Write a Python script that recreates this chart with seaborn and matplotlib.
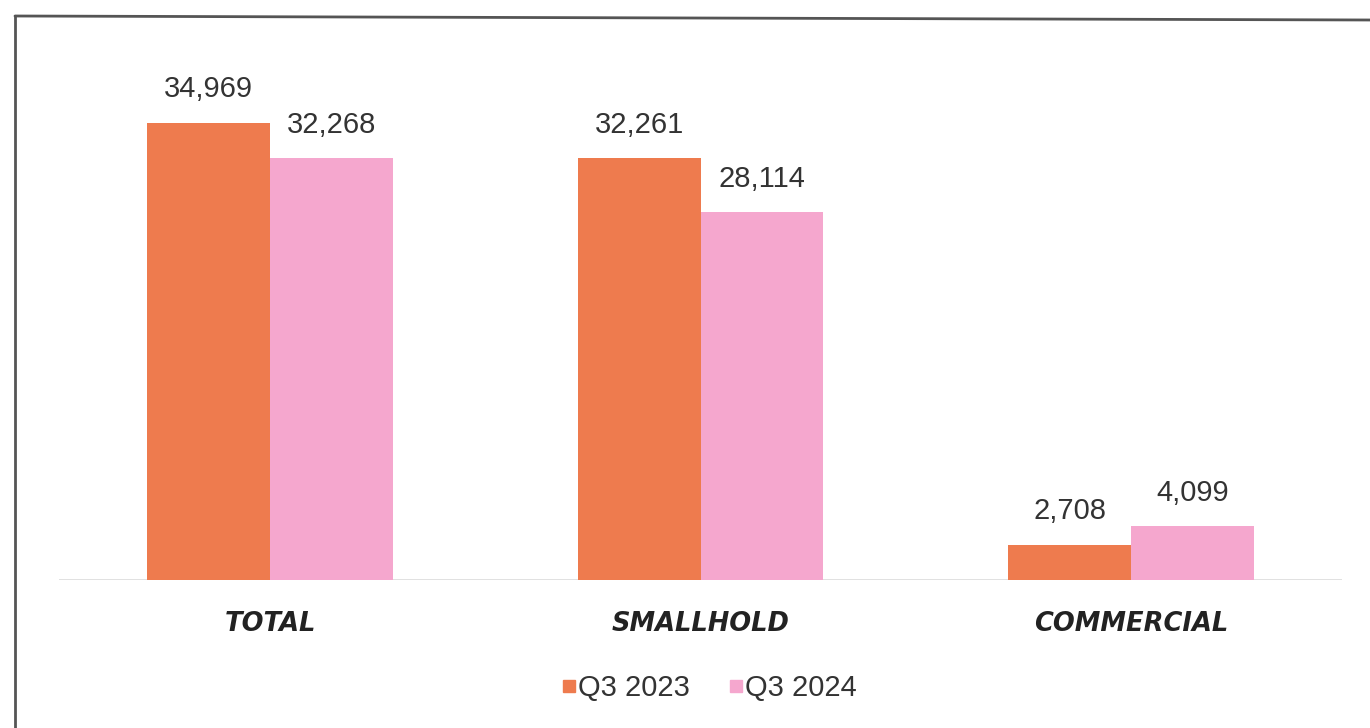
import matplotlib
matplotlib.use("Agg")
import matplotlib.pyplot as plt
from matplotlib.lines import Line2D
import seaborn as sns
import pandas as pd

categories = ["TOTAL", "SMALLHOLD", "COMMERCIAL"]
series_names = ["Q3 2023", "Q3 2024"]
q3_2023 = [34969, 32261, 2708]
q3_2024 = [32268, 28114, 4099]
colors = ["#EE7B4E", "#F5A7CE"]

df = pd.DataFrame({
    "category": categories * 2,
    "period": [series_names[0]] * 3 + [series_names[1]] * 3,
    "value": q3_2023 + q3_2024,
})

sns.set_theme(style="white")
plt.rcParams["font.family"] = ["Liberation Sans", "DejaVu Sans"]

fig = plt.figure(figsize=(13.7, 7.28), dpi=100)
fig.patch.set_facecolor("white")
ax = fig.add_axes([0.0431, 0.2033, 0.9365, 0.7184])

sns.barplot(data=df, x="category", y="value", hue="period", order=categories,
            hue_order=series_names, palette=colors, width=0.57, gap=0,
            saturation=1, ax=ax, legend=False, errorbar=None, linewidth=0)

for container in ax.containers:
    ax.bar_label(container, labels=[f"{int(v.get_height()):,}" for v in container],
                 padding=14, fontsize=21, color="#333333")

ax.set_xlim(-0.49, 2.49)
ax.set_ylim(0, 40000)
ax.set_xlabel("")
ax.set_ylabel("")
ax.set_yticks([])
for s in ax.spines.values():
    s.set_visible(False)
ax.axhline(0, color="#dcdcdc", lw=1.2, zorder=0)
ax.tick_params(axis="x", length=0, pad=22)
for lbl in ax.get_xticklabels():
    lbl.set_fontsize(18.5)
    lbl.set_fontweight("bold")
    lbl.set_fontstyle("italic")
    lbl.set_color("#222222")
    lbl.set_fontfamily(["DejaVu Sans"])

handles = [Line2D([0], [0], marker="s", linestyle="", markersize=8,
                  markerfacecolor=c, markeredgecolor=c) for c in colors]
fig.legend(handles, series_names, loc="center", bbox_to_anchor=(704 / 1370, 1 - 688 / 728),
           ncol=2, frameon=False, fontsize=21, handletextpad=-0.3, columnspacing=1.0,
           handlelength=1.2, labelcolor="#333333")

# scanned frame (left and top edges)
fig.add_artist(Line2D([15 / 1370, 15 / 1370], [0, 1 - 16 / 728], transform=fig.transFigure,
                      color="#555555", lw=2))
fig.add_artist(Line2D([15 / 1370, 1], [1 - 16 / 728, 1 - 20 / 728], transform=fig.transFigure,
                      color="#555555", lw=2))

fig.savefig("out.png", dpi=100, facecolor="white")
